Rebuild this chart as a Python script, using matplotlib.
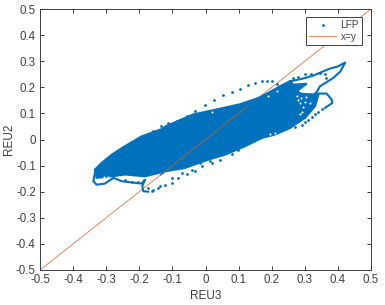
import matplotlib
matplotlib.use('Agg')
import matplotlib.pyplot as plt

plt.rcParams['font.family'] = ['Liberation Sans', 'DejaVu Sans']

ticks = [-0.5, -0.4, -0.3, -0.2, -0.1, 0, 0.1, 0.2, 0.3, 0.4, 0.5]
tick_labels = ['-0.5', '-0.4', '-0.3', '-0.2', '-0.1', '0', '0.1', '0.2', '0.3', '0.4', '0.5']

# dense core of the LFP cloud, outline
core_x = [-0.334, -0.314, -0.283, -0.249, -0.193, -0.132, -0.118, -0.037, 0.033, 0.104, 0.160, 0.190, 0.225, 0.255,
          0.265, 0.306, 0.275, 0.290, 0.341, 0.331, 0.301, 0.255, 0.210, 0.170, 0.119, 0.059, 0.009,
          -0.062, -0.122, -0.183, -0.243, -0.283, -0.329]
core_y = [-0.115, -0.09, -0.058, -0.030, 0.012, 0.040, 0.052, 0.096, 0.115, 0.135, 0.159, 0.179, 0.204, 0.223,
          0.21, 0.214, 0.185, 0.175, 0.172, 0.128, 0.083, 0.044, 0.019, 0.006, -0.026, -0.058, -0.077,
          -0.109, -0.122, -0.141, -0.134, -0.141, -0.147]

# thick excursions, points close together
tip_x = [0.255, 0.29, 0.326, 0.372, 0.40, 0.422, 0.407, 0.385, 0.346, 0.331]
tip_y = [0.223, 0.232, 0.245, 0.27, 0.28, 0.295, 0.26, 0.235, 0.204, 0.172]
lobe_x = [0.331, 0.366, 0.381, 0.383, 0.361]
lobe_y = [0.176, 0.176, 0.153, 0.140, 0.121]
foot_x = [-0.334, -0.339, -0.329, -0.304, -0.278, -0.253, -0.193, -0.183, -0.191, -0.188, -0.173]
foot_y = [-0.128, -0.160, -0.173, -0.169, -0.147, -0.160, -0.169, -0.154, -0.179, -0.198, -0.2]

# sparse dots outside the core
dots_x = [0.351, 0.341, 0.331, 0.321, 0.311, 0.301, 0.291, 0.27,
          0.079, 0.104, 0.127, 0.150, 0.170, 0.185, 0.200, 0.215,
          -0.158, -0.133, -0.113, -0.087, -0.057, -0.032, -0.002, 0.025, 0.054,
          0.265, 0.28, 0.30, 0.32, 0.345, 0.362, 0.365,
          -0.243, -0.223, -0.203, -0.173, -0.158, -0.142, -0.122, -0.102, -0.082, -0.057, -0.032, -0.012, 0.019, 0.044,
          -0.163, -0.137, -0.102, -0.072, -0.042, -0.017, 0.014, 0.059, 0.079, 0.099]
dots_y = [0.115, 0.105, 0.096, 0.086, 0.076, 0.066, 0.057, 0.048,
          0.181, 0.195, 0.208, 0.217, 0.223, 0.226, 0.223, 0.214,
          0.032, 0.052, 0.062, 0.071, 0.090, 0.109, 0.132, 0.15, 0.169,
          0.235, 0.24, 0.25, 0.252, 0.255, 0.25, 0.237,
          -0.154, -0.164, -0.164, -0.185, -0.192, -0.185, -0.173, -0.166, -0.147, -0.134, -0.122, -0.102, -0.09, -0.077,
          -0.198, -0.179, -0.147, -0.128, -0.115, -0.09, -0.083, -0.051, -0.054, -0.039]

# small white specks inside the core
gap_x = [-0.307, -0.295, 0.276, 0.29, 0.305, 0.285, 0.30, 0.315, 0.28, 0.295, 0.292, 0.285, 0.21, 0.195, 0.02, 0.19, 0.215]
gap_y = [-0.143, -0.145, 0.165, 0.16, 0.162, 0.14, 0.142, 0.14, 0.15, 0.125, 0.105, 0.098, 0.026, 0.022, 0.105, 0.165, 0.185]

line_x = [-0.5, 0.5]
line_y = [-0.5, 0.5]
inner_x = [-0.135, 0.125]
inner_y = [-0.135, 0.125]

blue = '#0072BD'
orange = '#D95319'
grey = '#404040'

fig = plt.figure(figsize=(3.85, 3.05), dpi=100)
ax = fig.add_axes([40 / 385, 1 - 270 / 305, 331 / 385, 261 / 305])

ax.fill(core_x, core_y, color=blue, lw=1.5, zorder=2)
ax.plot(tip_x, tip_y, color=blue, lw=1.5, zorder=2)
ax.plot(lobe_x, lobe_y, color=blue, lw=1.5, zorder=2)
ax.plot(foot_x, foot_y, color=blue, lw=1.5, zorder=2)
ax.plot(gap_x, gap_y, ls='', marker='.', ms=3, mew=0, color='white', zorder=3)
ax.plot(dots_x, dots_y, ls='', marker='.', ms=4, mew=0, color=blue, label='LFP', zorder=2)
ax.plot(line_x, line_y, color=orange, lw=0.6, alpha=0.8, label='x=y', zorder=1)
ax.plot(inner_x, inner_y, color='#5F6A75', lw=1.2, zorder=4)

ax.set_xlim(-0.5, 0.5)
ax.set_ylim(-0.5, 0.5)
ax.set_xticks(ticks)
ax.set_xticklabels(tick_labels)
ax.set_yticks(ticks)
ax.set_yticklabels(tick_labels)
ax.tick_params(direction='in', top=True, right=True, length=3, width=0.7, color=grey,
               labelcolor=grey, labelsize=8.3, pad=3)
for s in ax.spines.values():
    s.set_color(grey)
    s.set_linewidth(0.7)

ax.set_xlabel('REU3', fontsize=8.5, color=grey, labelpad=3)
ax.set_ylabel('REU2', fontsize=8.5, color=grey, labelpad=1)

leg = ax.legend(loc='upper right', bbox_to_anchor=(322 / 331, 253 / 261), borderaxespad=0,
                fontsize=7.2, fancybox=False, framealpha=1, edgecolor=grey, labelspacing=0.15,
                handlelength=2.7, handletextpad=0.45, borderpad=0.3)
for t in leg.get_texts():
    t.set_color(grey)
leg.get_frame().set_linewidth(0.7)

fig.savefig('out.png', dpi=100)
